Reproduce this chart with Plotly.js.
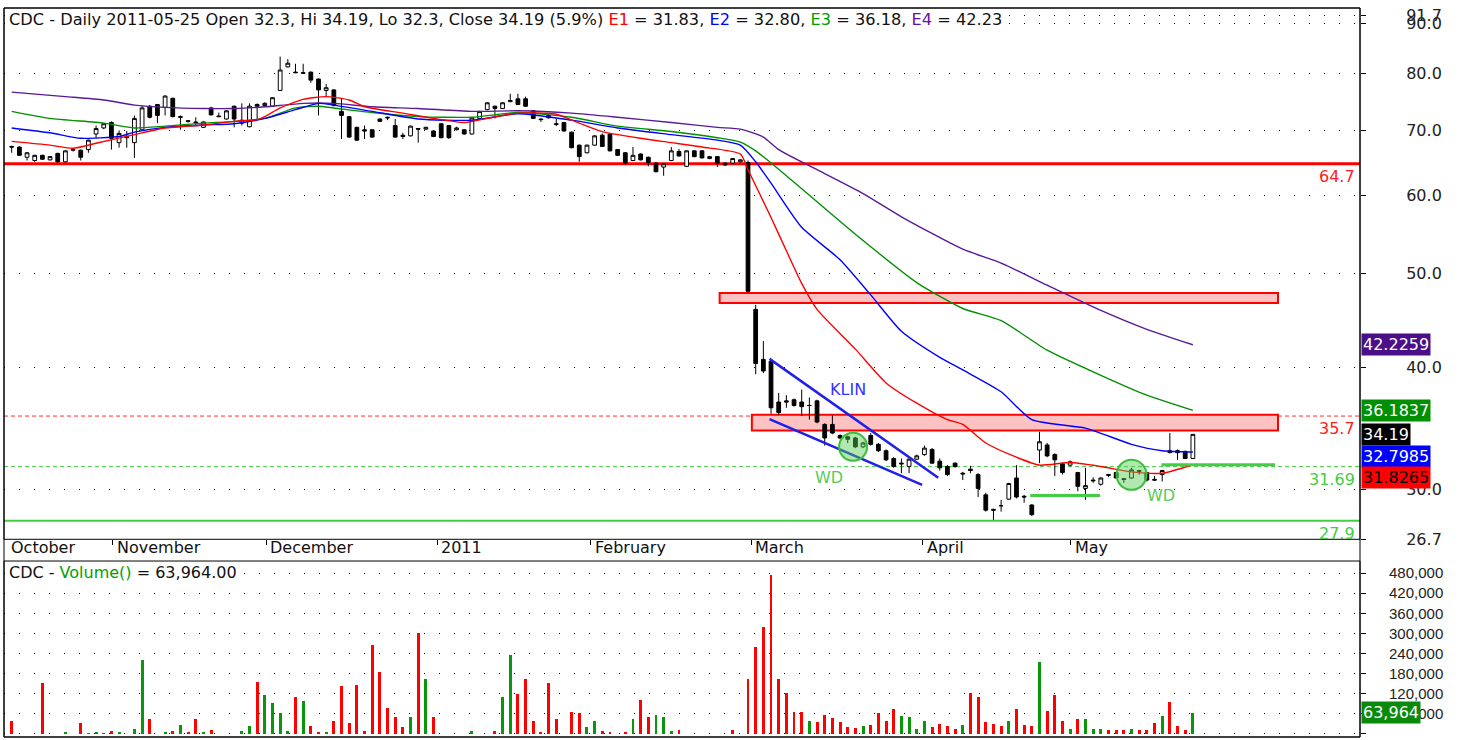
<!DOCTYPE html>
<html><head><meta charset="utf-8">
<script src="https://cdn.plot.ly/plotly-3.0.1.min.js"></script>
<style>html,body{margin:0;padding:0;background:#fff;} #chart{width:1459px;height:740px;}</style>
</head><body><div id="chart"></div>
<script>
// ---- price data (one value per trading day, Oct 2010 - 2011-05-25) ----
const openP = [67.4,67.3,65.7,65.2,66.0,65.3,66.3,65.0,66.8,66.8,
66.9,69.4,70.4,71.3,68.0,69.0,68.0,70.1,74.1,74.4,
73.9,75.5,72.3,71.6,71.4,70.5,73.8,72.4,71.9,74.1,
71.2,70.6,74.4,74.2,74.1,76.9,81.3,80.3,80.2,80.3,
79.0,76.9,77.0,73.2,72.3,70.5,70.1,70.1,71.9,72.2,
70.8,69.2,69.1,70.3,70.2,69.9,71.1,70.8,70.1,70.1,
69.4,72.0,73.5,74.1,73.7,74.9,75.4,75.4,73.3,71.9,
72.5,71.1,71.3,69.7,67.6,66.4,67.6,69.2,69.4,66.9,
66.4,65.2,66.2,65.7,64.8,64.2,65.2,66.6,64.3,66.7,
66.7,65.5,65.8,64.8,64.8,65.0,64.9,45.9,40.8,40.6,
36.9,37.0,37.1,36.9,36.6,37.0,35.0,35.0,34.1,34.0,
33.9,33.2,34.1,33.4,32.9,32.3,31.95,31.7,32.25,32.6,
33.0,32.1,31.7,31.95,31.2,31.5,31.1,29.65,28.65,28.9,
29.35,30.85,29.55,28.95,32.95,33.35,32.6,31.9,31.8,31.25,
30.1,30.7,30.4,31.1,31.25,30.8,30.85,31.4,31.25,30.75,
31.1,32.9,32.9,32.85,32.3];
const highP = [67.5,67.4,66.5,66.1,66.1,65.9,66.4,66.8,67.0,66.9,
68.5,70.8,71.2,71.5,70.0,69.9,72.5,74.2,74.3,74.5,
76.0,75.6,72.5,71.7,72.2,71.5,74.0,73.0,73.4,74.2,
74.6,74.6,74.6,74.8,75.7,83.3,82.8,81.9,81.9,80.4,
79.1,78.1,77.1,75.4,72.4,70.6,70.8,70.2,72.0,72.3,
71.9,69.6,70.8,70.4,70.6,70.0,71.2,70.9,70.6,70.2,
72.2,73.3,74.8,74.2,74.8,76.3,76.3,75.8,73.4,72.0,
72.6,71.9,71.4,69.8,67.7,67.7,69.2,69.5,69.5,67.0,
66.5,67.3,66.3,65.8,64.9,64.8,67.3,67.0,66.8,66.8,
66.8,65.9,65.9,64.9,65.6,65.4,65.2,46.4,42.6,40.7,
37.7,37.5,37.2,38.0,37.3,37.1,35.1,35.8,34.2,34.1,
34.0,33.6,34.3,33.5,33.0,32.4,32.3,32.3,32.6,33.3,
33.1,32.3,31.8,32.0,31.3,31.75,31.2,29.8,28.7,29.3,
30.5,31.8,29.65,29.0,34.4,33.5,32.7,32.0,32.15,31.3,
31.6,30.9,30.9,31.15,31.3,30.85,31.6,31.45,31.3,31.0,
31.45,34.3,33.0,32.9,34.19];
const lowP = [66.4,65.9,65.2,65.0,65.3,65.2,64.8,64.9,66.6,65.2,
66.4,68.7,70.2,66.9,67.2,67.2,65.6,70.0,72.0,71.2,
72.5,72.2,70.1,71.3,70.8,70.4,72.5,72.3,71.8,70.5,
70.8,70.5,71.9,74.0,74.0,76.8,81.2,80.1,80.0,78.3,
72.5,75.7,74.1,68.6,68.8,68.3,68.6,68.8,71.4,71.7,
68.8,68.6,69.0,68.0,70.1,68.9,68.7,68.6,70.0,69.3,
69.3,71.9,73.4,72.0,73.6,74.8,74.3,74.0,71.9,71.4,
72.0,70.7,69.8,67.1,65.0,66.3,67.5,67.3,66.6,65.9,
64.6,65.1,65.2,64.3,63.4,62.9,65.1,65.8,64.2,65.7,
65.5,65.4,64.2,64.4,64.7,64.9,47.8,39.4,39.5,35.9,
35.8,36.4,36.5,35.7,35.4,35.1,33.3,34.2,33.8,33.5,
33.1,33.1,33.3,32.8,32.1,31.6,31.2,31.2,32.2,32.5,
31.9,31.4,31.0,31.6,30.7,31.2,29.5,28.5,27.95,28.5,
29.3,29.4,29.1,28.2,31.95,32.4,31.0,31.1,31.7,29.9,
29.3,30.5,30.3,30.9,30.8,30.5,30.8,31.1,30.6,30.65,
30.6,32.7,32.2,32.25,32.3];
const closeP = [67.3,66.0,66.4,66.0,65.4,65.8,65.0,66.7,66.9,65.7,
68.4,70.3,71.1,68.7,69.5,68.8,72.0,73.8,72.2,72.5,
75.9,72.3,72.2,71.5,71.3,71.4,72.6,72.3,73.3,71.9,
71.7,74.1,74.1,74.6,75.6,80.7,82.0,80.2,80.1,78.8,
77.0,77.4,74.2,72.5,68.9,68.4,69.9,68.9,71.5,72.1,
68.9,69.0,70.7,70.2,70.5,69.0,68.8,68.8,70.4,69.4,
72.1,73.2,74.7,73.7,74.7,75.1,74.4,74.1,72.0,71.8,
72.1,71.0,69.9,67.2,65.8,67.6,69.1,67.4,66.7,66.0,
64.8,66.0,65.3,64.9,63.5,64.7,66.7,65.9,66.7,65.8,
65.6,65.8,64.8,64.5,65.5,65.3,47.9,40.4,39.7,36.4,
36.0,36.9,36.6,36.5,36.6,35.2,33.9,34.3,33.9,33.8,
33.2,33.5,33.4,32.9,32.2,31.7,31.9,32.25,32.5,33.1,
31.95,31.6,31.1,31.7,31.15,31.4,30.1,28.6,28.6,28.9,
30.45,29.5,29.5,28.3,33.6,32.5,32.2,31.25,32.05,30.25,
30.3,30.65,30.85,31.05,30.85,30.75,31.45,31.35,30.7,30.7,
31.4,32.75,32.75,32.3,34.19];
const volume = [39600,0,0,0,153000,0,0,5000,0,33000,
3000,5000,3000,8000,5000,0,15000,221000,45000,0,
5000,8000,27000,5000,45000,5000,12000,0,0,0,
8000,23000,156000,117000,92000,62000,8000,109000,98000,23000,
5000,5000,40000,143000,33000,146000,8000,265000,186000,77000,
52000,20000,52000,302000,163000,52000,0,0,0,0,
8000,0,0,8000,109000,236000,119000,163000,40000,5000,
152000,45000,0,66000,62000,20000,40000,10000,5000,0,
5000,45000,102000,52000,57000,52000,8000,13000,0,0,
0,0,0,0,13000,0,163000,259000,320000,473000,
163000,121000,66000,66000,40000,37000,56000,48000,37000,22000,
18000,23000,27000,62000,40000,74000,54000,52000,15000,40000,
20000,30000,23000,15000,27000,121000,109000,37000,30000,25000,
40000,74000,27000,23000,215000,69000,117000,40000,15000,45000,
45000,15000,15000,12000,12000,12000,15000,12000,12000,33000,
54000,94000,23000,12000,63964];
const volUp = [0,0,0,0,0,0,0,1,0,0, 1,1,1,0,1,0,1,1,0,0, 1,0,1,0,0,1,0,0,0,0,
1,1,0,1,1,1,1,0,1,0, 0,1,0,0,0,0,0,0,0,0, 0,0,1,0,1,0,0,0,0,0,
1,0,0,0,1,1,0,0,0,0, 0,0,0,0,0,1,1,0,0,0, 0,1,0,0,1,1,1,0,0,0,
0,0,0,0,0,0,0,0,0,0, 0,0,0,0,1,0,0,0,0,0, 0,1,0,0,0,0,1,1,1,1,
0,0,0,0,1,0,0,0,0,0, 1,0,0,0,1,0,0,0,1,0, 1,1,1,0,0,0,1,0,0,0,
1,0,0,0,1];

// ---- moving averages, read at sample bars ----
const e1Idx = [0,5,8,11,16,20,25,29,32,33,35,38,41,44,46,51,55,59,62,66,71,74,77,82,86,90,95,96,99,101,103,105,110,114,118,122,124,127,131,134,138,142,146,150,154];
const e1Val = [68.2,67.6,67.1,67.9,69.3,70.4,70.9,71.5,71.8,72.3,73.8,75.3,75.8,75.2,74.0,72.9,72.0,71.3,72.0,72.9,72.7,71.2,69.8,68.7,68.0,67.3,66.2,63.8,57.0,52.7,48.8,45.9,41.8,38.6,36.8,35.4,35.0,33.5,32.4,31.8,32.0,31.7,31.3,31.2,31.83];
const e2Idx = [0,5,9,14,16,20,25,29,33,37,40,42,47,53,60,66,73,79,86,92,95,97,99,103,108,112,116,121,124,129,133,140,146,150,154];
const e2Val = [70.4,69.6,68.7,69.0,69.7,70.5,70.9,71.1,72.0,73.5,74.6,74.3,73.2,71.9,71.7,72.8,71.7,70.4,69.3,68.4,67.6,65.0,61.8,55.7,51.6,47.5,43.6,41.0,39.8,37.8,35.4,34.7,33.4,32.9,32.80];
const e3Idx = [0,5,12,16,20,25,29,33,37,40,42,47,53,60,66,73,79,86,92,95,97,101,110,118,124,129,135,142,148,154];
const e3Val = [73.2,72.0,71.2,70.4,70.7,71.2,71.5,72.0,73.8,74.1,73.8,73.0,72.3,72.2,73.0,72.2,70.7,69.8,68.8,68.1,66.7,62.9,54.8,48.9,46.0,44.7,41.7,39.3,37.5,36.18];
const e4Idx = [0,7,12,16,20,25,29,33,38,42,47,53,60,66,73,79,86,92,95,98,100,105,111,116,124,129,135,142,148,154];
const e4Val = [76.6,75.8,75.2,74.3,73.9,73.7,73.7,74.0,74.6,74.6,74.0,73.7,73.2,73.3,72.9,72.2,71.3,70.5,70.2,68.9,66.9,63.8,60.3,57.1,52.9,51.2,48.6,45.8,43.8,42.23];
const lastMA = [42.2259, 36.1837, 34.19, 32.7985, 31.8265];

// ---- axes / labels ----
const monthNames = ['November','December','2011','February','March','April','May'];
const monthPos = [13.2,33.2,55.5,75.5,96.4,118.8,138.1];
const priceTicks = [26.7,30,40,50,60,70,80,90,91.7];
const volTicks = [0,60000,120000,180000,240000,300000,360000,420000,480000];
const levelVals = [64.7, 35.7, 31.69, 27.9];

// ---- build ----
const idx = closeP.map((_, i) => i);
const L10 = Math.log10;
const F = 'DejaVu Sans';
const RED = '#ff0000', GRN = '#0a960a', LGRN = '#44cc44', BLUE = '#0000ff', PURP = '#5a1a96';
const PXX = 7.67, PXY = 424.4;   // pixels per bar, pixels per ln-unit (for round circles)

const traces = [];
const maDefs = [[e4Idx,e4Val,PURP],[e3Idx,e3Val,'#009000'],[e2Idx,e2Val,BLUE],[e1Idx,e1Val,RED]];
maDefs.forEach(d => traces.push({type:'scatter', mode:'lines', x:d[0], y:d[1], xaxis:'x', yaxis:'y',
  line:{color:d[2], width:1.4, shape:'spline', smoothing:0.6}, hoverinfo:'skip'}));
traces.push({type:'candlestick', x:idx, open:openP, high:highP, low:lowP, close:closeP, xaxis:'x', yaxis:'y',
  increasing:{line:{color:'#000', width:1}, fillcolor:'#ffffff'},
  decreasing:{line:{color:'#000', width:1}, fillcolor:'#000000'},
  whiskerwidth:0, hoverinfo:'skip'});
traces.push({type:'bar', x:idx, y:volume, xaxis:'x', yaxis:'y2', width:0.38,
  marker:{color:volUp.map(u => u ? GRN : RED), line:{width:0}}, hoverinfo:'skip'});

const maxLab = '480,000';
const volText = volTicks.map(v => {
  const s = v.toLocaleString('en-US');
  const pad = maxLab.slice(0, maxLab.length - s.length).replace(/\d/g,'\u2007').replace(/,/g,'\u2008');
  return pad + s;
});

function circ(cx, cp, r) {
  const dx = r / PXX, f = Math.exp(r / PXY);
  return {type:'circle', xref:'x', yref:'y', x0:cx - dx, x1:cx + dx, y0:cp / f, y1:cp * f,
    fillcolor:'rgba(80,205,80,0.45)', line:{color:'#3cbf3c', width:2}};
}

const pDom = [0.2712, 1], vDom = [0, 0.2414];
const shapes = [
  {type:'line', xref:'paper', x0:0, x1:1, yref:'y', y0:levelVals[0], y1:levelVals[0], line:{color:RED, width:3}, layer:'below'},
  {type:'line', xref:'paper', x0:0, x1:1, yref:'y', y0:levelVals[1], y1:levelVals[1], line:{color:'#ff3030', width:1, dash:'4px,3px'}, layer:'below'},
  {type:'line', xref:'paper', x0:0, x1:1, yref:'y', y0:levelVals[2], y1:levelVals[2], line:{color:LGRN, width:1, dash:'4px,3px'}, layer:'below'},
  {type:'line', xref:'paper', x0:0, x1:1, yref:'y', y0:levelVals[3], y1:levelVals[3], line:{color:LGRN, width:2}, layer:'below'},
  {type:'rect', xref:'x', yref:'y', x0:92.3, x1:165.1, y0:46.6, y1:47.7, fillcolor:'#ffc2c2', line:{color:RED, width:2}, layer:'below'},
  {type:'rect', xref:'x', yref:'y', x0:96.5, x1:165.1, y0:34.5, y1:35.8, fillcolor:'#ffc2c2', line:{color:RED, width:2}, layer:'below'},
  {type:'line', xref:'x', yref:'y', x0:98.8, y0:40.85, x1:120.8, y1:30.87, line:{color:'#2020e8', width:2.5}},
  {type:'line', xref:'x', yref:'y', x0:98.8, y0:35.45, x1:118.7, y1:30.36, line:{color:'#2020e8', width:2.5}},
  {type:'line', xref:'x', yref:'y', x0:132.8, y0:29.6, x1:141.9, y1:29.6, line:{color:LGRN, width:3}},
  {type:'line', xref:'x', yref:'y', x0:149.9, y0:31.82, x1:164.7, y1:31.82, line:{color:LGRN, width:3}},
  circ(109.7, 33.2, 14),
  circ(146.0, 31.08, 15),
  {type:'rect', xref:'paper', yref:'paper', x0:0, x1:1, y0:0, y1:1, line:{color:'#000', width:1}},
  {type:'rect', xref:'paper', yref:'paper', x0:0, x1:1, y0:pDom[0], y1:pDom[1], line:{color:'#000', width:1}},
  {type:'rect', xref:'paper', yref:'paper', x0:0, x1:1, y0:vDom[0], y1:vDom[1], line:{color:'#000', width:1}}
];

const ann = [];
const title = 'CDC - Daily 2011-05-25 Open 32.3, Hi 34.19, Lo 32.3, Close 34.19 (5.9%) ' +
  '<span style="color:#ff0000">E1</span> = 31.83, <span style="color:#0000ff">E2</span> = 32.80, ' +
  '<span style="color:#00a000">E3</span> = 36.18, <span style="color:#6a0dad">E4</span> = 42.23';
ann.push({xref:'paper', yref:'paper', x:0.003, y:1, xanchor:'left', yanchor:'top', yshift:-1, text:title,
  showarrow:false, bgcolor:'#ffffff', borderpad:0, font:{family:F, size:16.2, color:'#111'}});
ann.push({xref:'paper', yref:'paper', x:0.003, y:vDom[1], xanchor:'left', yanchor:'top', yshift:-1,
  text:'CDC - <span style="color:#00a000">Volume()</span> = 63,964.00', showarrow:false, bgcolor:'#ffffff', borderpad:0,
  font:{family:F, size:16, color:'#111'}});
ann.push({xref:'paper', yref:'paper', x:0.004, y:0.2593, xanchor:'left', yanchor:'middle', text:'October',
  showarrow:false, font:{family:F, size:16, color:'#111'}});
monthNames.forEach((m, k) => ann.push({xref:'x', yref:'paper', x:monthPos[k], y:0.2593, xanchor:'left', yanchor:'middle',
  xshift:2, text:m, showarrow:false, font:{family:F, size:16, color:'#111'}}));
const lvlCol = ['#ff2020','#ff2020',LGRN,LGRN];
const lvlTxt = ['64.7','35.7','31.69','27.9'];
levelVals.forEach((v, k) => ann.push({xref:'paper', yref:'y', x:0.9975, y:L10(v), xanchor:'right', yanchor:'top', yshift:-1,
  text:lvlTxt[k], showarrow:false, font:{family:F, size:16, color:lvlCol[k]}}));
ann.push({xref:'x', yref:'y', x:109.1, y:L10(38.0), text:'KLIN', showarrow:false, font:{family:F, size:16, color:'#3333ff'}});
ann.push({xref:'x', yref:'y', x:106.6, y:L10(30.87), text:'WD', showarrow:false, font:{family:F, size:16, color:'#55cc55'}});
ann.push({xref:'x', yref:'y', x:149.9, y:L10(29.6), text:'WD', showarrow:false, font:{family:F, size:16, color:'#55cc55'}});
const boxBg = ['#4b0f8a','#008f00','#000000','#0000ff','#ff0000'];
const boxFg = ['#fff','#fff','#fff','#fff','#000'];
const boxShift = [0, 0, 0, -4, -12.5];
const boxTxt = ['42.2259','36.1837','34.19','32.7985','31.8265'];
lastMA.forEach((v, k) => ann.push({xref:'paper', yref:'y', x:1, xshift:1, y:L10(v), yshift:boxShift[k], xanchor:'left', yanchor:'middle',
  text:boxTxt[k], showarrow:false, bgcolor:boxBg[k], borderpad:1, height:19, font:{family:F, size:16, color:boxFg[k]}}));
ann.push({xref:'paper', yref:'y2', x:1, xshift:1, y:volume[volume.length-1], xanchor:'left', yanchor:'middle',
  text:volume[volume.length-1].toLocaleString('en-US'), showarrow:false, bgcolor:'#0a8a0a', borderpad:1, height:19,
  font:{family:F, size:16, color:'#fff'}});

const layout = {
  width:1459, height:740, margin:{l:4, r:99, t:8, b:3},
  paper_bgcolor:'#fff', plot_bgcolor:'#fff', showlegend:false, hovermode:false,
  font:{family:F, size:16, color:'#222'},
  xaxis:{range:[-1.004, 175.79], anchor:'y', showgrid:false, zeroline:false, showline:false,
    tickmode:'array', tickvals:monthPos, ticks:'outside', ticklen:5, tickcolor:'#000', showticklabels:false,
    rangeslider:{visible:false}, fixedrange:true},
  yaxis:{domain:pDom, type:'log', range:[L10(26.7), L10(93.4)], side:'right', anchor:'x',
    tickmode:'array', tickvals:priceTicks, ticktext:priceTicks.map(v => v.toFixed(1)),
    ticks:'outside', ticklen:5, tickcolor:'#000', ticklabelstandoff:37,
    showgrid:true, gridcolor:'#000', gridwidth:1, griddash:'1px,14px', zeroline:false, showline:false,
    tickfont:{family:F, size:16, color:'#222'}, fixedrange:true},
  yaxis2:{domain:vDom, range:[-8944, 515800], side:'right', anchor:'x',
    tickmode:'array', tickvals:volTicks, ticktext:volText,
    ticks:'outside', ticklen:5, tickcolor:'#000', ticklabelstandoff:20,
    showgrid:true, gridcolor:'#000', gridwidth:1, griddash:'1px,14px', zeroline:false, showline:false,
    tickfont:{family:'Liberation Sans', size:15, color:'#222'}, fixedrange:true},
  bargap:0, shapes:shapes, annotations:ann
};
Plotly.newPlot('chart', traces, layout, {staticPlot:true, displayModeBar:false});
</script>
</body></html>
